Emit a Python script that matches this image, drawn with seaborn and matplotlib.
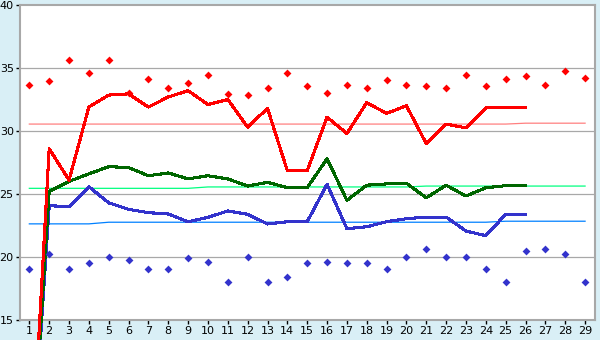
import numpy as np
import pandas as pd
import matplotlib
matplotlib.use("Agg")
import matplotlib.pyplot as plt
import seaborn as sns

days = list(range(1, 30))
line_days = list(range(1, 27))

red_line = [0, 28.6, 26.1, 31.9, 32.85, 32.95, 31.9, 32.7, 33.2, 32.1, 32.5, 30.3, 31.8,
            26.85, 26.85, 31.1, 29.8, 32.25, 31.4, 32.0, 29.0, 30.55, 30.25, 31.85, 31.85, 31.85]
green_line = [0, 25.2, 26.0, 26.6, 27.17, 27.1, 26.45, 26.67, 26.2, 26.45, 26.2, 25.63, 25.93,
              25.5, 25.5, 27.8, 24.5, 25.7, 25.8, 25.85, 24.7, 25.7, 24.84, 25.5, 25.66, 25.66]
blue_line = [0, 24.07, 24.0, 25.58, 24.3, 23.78, 23.52, 23.41, 22.8, 23.15, 23.65, 23.39, 22.62,
             22.8, 22.8, 25.77, 22.25, 22.4, 22.8, 23.04, 23.17, 23.17, 22.06, 21.69, 23.39, 23.39]

red_points = [33.62, 33.97, 35.6, 34.6, 35.6, 33.0, 34.1, 33.4, 33.8, 34.42, 32.94, 32.86, 33.39,
              34.6, 33.55, 33.0, 33.62, 33.39, 34.02, 33.62, 33.55, 33.39, 34.42, 33.55, 34.1,
              34.34, 33.62, 34.8, 34.18]
blue_points = [19.02, 20.21, 19.07, 19.5, 19.97, 19.8, 19.02, 19.02, 19.9, 19.58, 17.99, 19.97,
               17.99, 18.39, 19.5, 19.58, 19.5, 19.5, 19.02, 19.97, 20.6, 19.97, 19.97, 19.02,
               17.99, 20.45, 20.6, 20.21, 17.99]

red_ref = [30.55] * 25 + [30.62] * 4
green_ref = [25.45] * 9 + [25.56] * 11 + [25.63] * 9
blue_ref = [22.63] * 4 + [22.76] * 20 + [22.84] * 5

bg = "#d9eff6"
fig = plt.figure(figsize=(6, 3.4), dpi=100, facecolor=bg)
ax = fig.add_axes([20 / 600, 1 - 320 / 340, 575 / 600, 315 / 340])
ax.set_facecolor("white")

for yv in [20, 25, 30, 35]:
    ax.axhline(yv, color="#a8a8a8", lw=0.9, zorder=0.5)

ref_df = pd.DataFrame({"day": days, "red": red_ref, "green": green_ref, "blue": blue_ref})
for col, c in [("red", "#ff8080"), ("green", "#00ff80"), ("blue", "#0080ff")]:
    sns.lineplot(data=ref_df, x="day", y=col, ax=ax, color=c, lw=0.9, zorder=1)

line_df = pd.DataFrame({"day": line_days, "red": red_line, "green": green_line, "blue": blue_line})
for col, c in [("blue", "#3333cc"), ("green", "#006600"), ("red", "#ff0000")]:
    sns.lineplot(data=line_df, x="day", y=col, ax=ax, color=c, lw=1.5, zorder=3,
                 clip_on=False, antialiased=False)

pt_df = pd.DataFrame({"day": days, "red": red_points, "blue": blue_points})
sns.scatterplot(data=pt_df, x="day", y="red", ax=ax, color="#ff0000", marker="D", s=16,
                linewidth=0, zorder=4)
sns.scatterplot(data=pt_df, x="day", y="blue", ax=ax, color="#3333cc", marker="D", s=16,
                linewidth=0, zorder=4)

ax.set_xlim(0.53, 29.5)
ax.set_ylim(15, 40)
ax.set_xticks(days)
ax.set_xticklabels([str(d) for d in days])
ax.set_yticks([15, 20, 25, 30, 35, 40])
ax.set_xlabel("")
ax.set_ylabel("")
for s in ax.spines.values():
    s.set_color("#a8a8a8")
    s.set_linewidth(1.5)
ax.tick_params(axis="both", length=3, width=1, color="black", labelsize=8,
               labelcolor="black", pad=1.5)
ax.grid(False)

fig.savefig("out.png", dpi=100, facecolor=bg)
